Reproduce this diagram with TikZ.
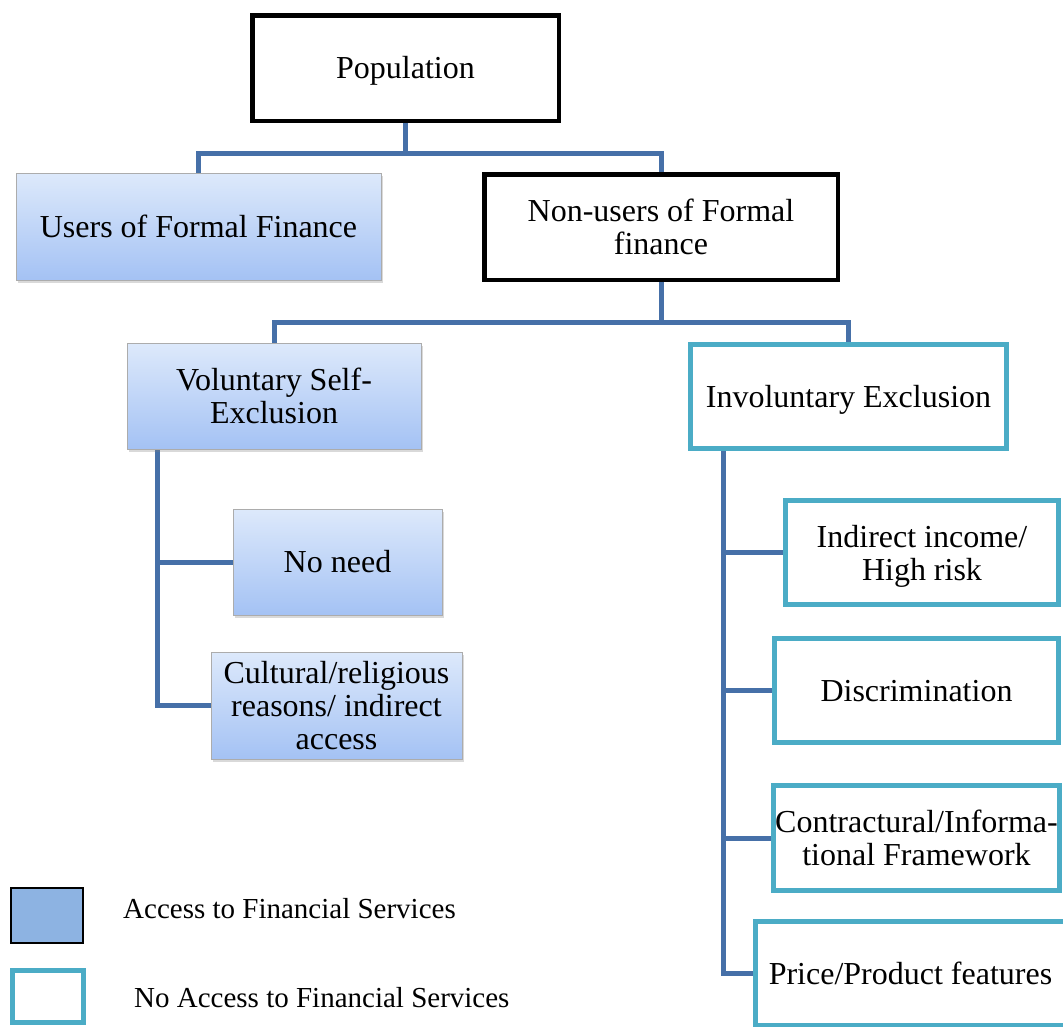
\documentclass[tikz,border=0pt]{standalone}
\usepackage{fontspec}
\setmainfont{Liberation Serif}
\usetikzlibrary{shadows,backgrounds}
\definecolor{connc}{HTML}{4670A8}
\definecolor{tealb}{HTML}{4BACC6}
\definecolor{gradtop}{HTML}{DDE9FB}
\definecolor{gradbot}{HTML}{A4C2F4}
\definecolor{legblue}{HTML}{8DB3E2}
\tikzset{
  txt/.style={align=center, inner sep=0pt, font=\fontsize{32}{33}\selectfont},
  base/.style={rectangle, txt},
  one/.style={text height=23pt, text depth=2pt},
  blk/.style={base, draw=black, line width=4.5pt, fill=white},
  tl/.style={base, draw=tealb, line width=5pt, fill=white},
  grad/.style={base, draw=gray!65, line width=0.8pt, top color=gradtop, bottom color=gradbot,
    drop shadow={shadow xshift=2pt, shadow yshift=-3pt, opacity=0.3}},
  link/.style={draw=connc, line width=5pt},
  legtext/.style={anchor=base west, inner sep=0pt, font=\fontsize{29}{33}\selectfont},
}
\begin{document}
\begin{tikzpicture}[x=1pt,y=1pt]
\useasboundingbox (0,0) rectangle (1063,-1026);
% top
\node[blk, one, minimum width=306.5pt, minimum height=105.5pt] (pop) at (405.5,-68) {Population};
\node[grad, one, minimum width=365pt, minimum height=107pt] (users) at (198.5,-226.5) {Users of Formal Finance};
\node[blk, minimum width=353.5pt, minimum height=105.5pt] (nonu) at (661,-227) {Non-users of Formal\\finance};
% second level
\node[grad, minimum width=294pt, minimum height=106pt] (vol) at (274,-396) {Voluntary Self-\\Exclusion};
\node[tl, one, minimum width=316pt, minimum height=104pt] (invol) at (848.5,-396.5) {Involuntary Exclusion};
% voluntary children
\node[grad, one, minimum width=209pt, minimum height=106pt] (noneed) at (337.5,-562) {No need};
\node[grad, minimum width=251pt, minimum height=107pt] (cult) at (336.5,-705.5) {Cultural/religious\\reasons/ indirect\\access};
% involuntary children
\node[tl, minimum width=273pt, minimum height=104pt,
  label={[txt, yshift=-4pt]center:{Indirect income/\\High risk}}] (indir) at (922,-552.5) {};
\node[tl, one, minimum width=284pt, minimum height=104pt] (disc) at (916.5,-690.5) {Discrimination};
\node[tl, minimum width=286pt, minimum height=105pt] (contr) at (916.5,-838) {Contractural/Informa-\\tional Framework};
\node[tl, one, minimum width=310pt, minimum height=104pt] (price) at (910.5,-973.5) {Price/Product features};
% connectors
\begin{scope}[on background layer]
\draw[link] (pop.south) -- ++(0,-30) coordinate (j1);
\draw[link] (users.north) |- (j1) -| (nonu.north);
\draw[link] (nonu.south) -- ++(0,-40) coordinate (j2);
\draw[link] (vol.north) |- (j2) -| (invol.north);
\coordinate (vs) at ([xshift=-117pt]vol.south);
\draw[link] (vs) |- (noneed.west);
\draw[link] (vs) |- (cult.west);
\coordinate (is) at ([xshift=-125.5pt]invol.south);
\draw[link] (is) |- (indir.west);
\draw[link] (is) |- (disc.west);
\draw[link] (is) |- (contr.west);
\draw[link] (is) |- (price.west);
\end{scope}
% legend
\node[rectangle, draw=black, line width=2pt, fill=legblue, minimum width=72pt, minimum height=55pt, inner sep=0pt] (leg1) at (47,-915.5) {};
\node[rectangle, draw=tealb, line width=5pt, fill=white, minimum width=71pt, minimum height=52pt, inner sep=0pt] (leg2) at (48,-996.5) {};
\node[legtext] (leg1t) at (123,-918) {Access to Financial Services};
\node[legtext] (leg2t) at (134,-1007) {No Access to Financial Services};
\end{tikzpicture}
\end{document}
